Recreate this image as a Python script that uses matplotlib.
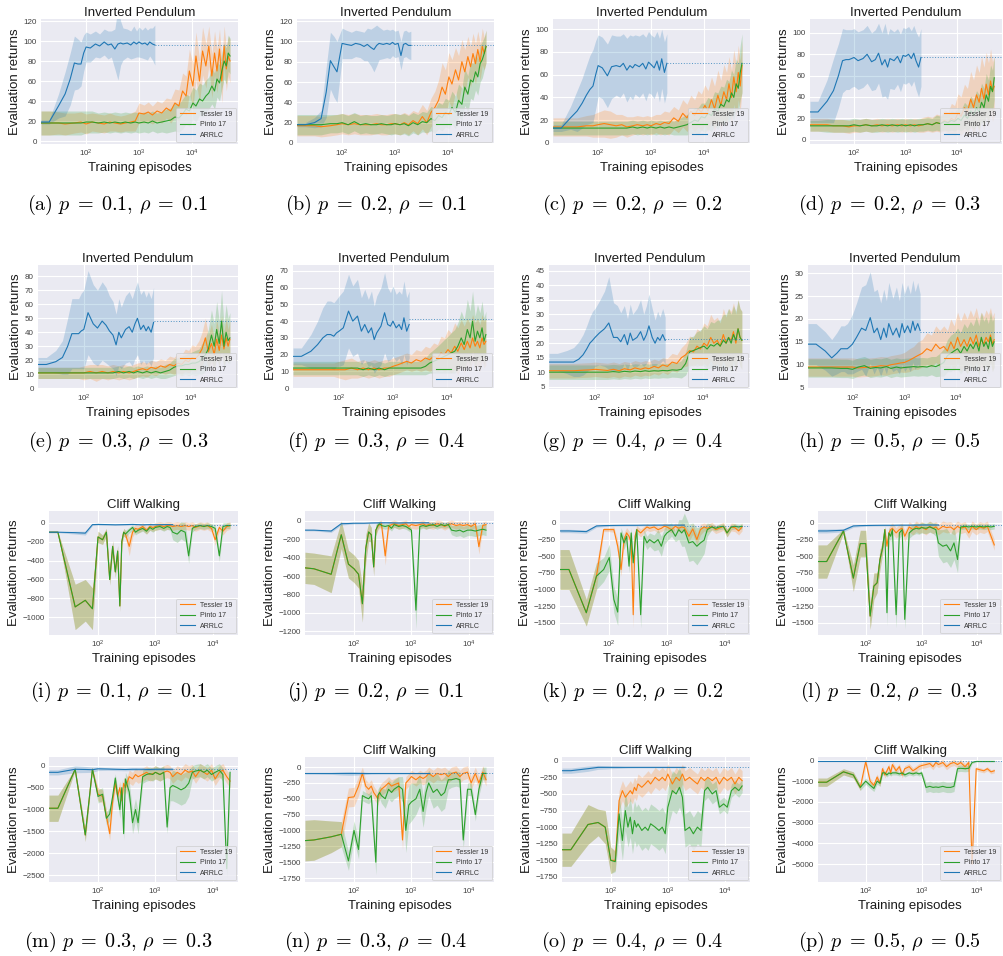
import sys
import numpy as np
import matplotlib
matplotlib.use("Agg")
import matplotlib.pyplot as plt
from matplotlib.ticker import NullLocator, LogLocator

plt.rcParams['font.family'] = ['Liberation Sans', 'DejaVu Sans']

# ---------------- x grids (training episodes) ----------------
PEND_X = [14, 20, 30, 40, 60, 80, 100, 130, 170, 220,
          280, 350, 450, 550, 700, 850, 1000, 1250, 1500, 1800,
          2200, 2700, 3300, 4000, 4800, 5700, 6700, 7800, 9000, 10500,
          12000, 14000, 16000, 18500, 21000, 24000, 27000, 30000, 33500, 37000,
          41000, 45000, 49000, 53000]
PEND_ARR_X = [14, 20, 30, 40, 50, 60, 70, 80, 90, 100,
              120, 150, 180, 220, 260, 300, 350, 400, 450, 500,
              600, 700, 800, 900, 1000, 1150, 1300, 1450, 1600, 1800,
              2000]
CLIFF_X = [14, 20, 40, 60, 80, 100, 120, 140, 160, 180,
           200, 220, 240, 260, 280, 300, 350, 400, 450, 500,
           600, 700, 800, 900, 1000, 1200, 1400, 1600, 1800, 2000,
           2400, 2800, 3300, 3800, 4400, 5000, 6000, 7000, 8000, 9500,
           11000, 13000, 15000, 17500, 20000]
CLIFF_ARR_X = [14, 20, 40, 60, 80, 100, 150, 200, 300, 400, 600, 800, 1000, 1400, 2000]

# ---------------- (a) ----------------
a_tes = [18,18,18,17,18,19,17,19,18,17, 19,18,17,18,19,20,28,27,29,26, 30,28,33,30,38,35,50,45,70,55, 85,60,90,75,95,65,88,70,92,60, 95,72,85,80]
a_tes_sd = [12,12,11,11,10,10,10,9,9,9, 9,8,8,8,9,10,10,9,10,9, 10,10,10,12,14,16,18,20,22,22, 24,22,24,22,20,22,22,22,20,22, 20,22,20,22]
a_pin = [18,18,18,18,18,18,19,19,18,19, 18,19,18,19,18,19,18,19,18,20, 18,19,20,21,24,23,27,32,30,38, 35,42,40,45,48,55,50,62,58,70, 80,75,88,85]
a_pin_sd = [12,12,12,12,12,12,11,11,10,10, 10,10,10,10,10,10,10,10,10,10, 10,10,12,12,14,14,15,15,15,16, 16,16,16,16,16,18,18,18,18,18, 18,18,18,18]
a_arr = [19,19,35,47,62,78,77,77,88,94, 93,97,95,99,96,97,92,97,98,97, 98,96,99,97,99,97,98,96,99,97, 96]
a_arr_sd = [2,2,12,22,26,27,25,22,18,15, 14,13,12,13,14,13,20,36,22,16, 14,14,16,13,15,14,16,15,14,16, 20]
a_final = 96

# ---------------- (b) ----------------
b_tes = [17,17,17,16,17,18,19,18,19,18, 18,18,19,18,18,19,19,18,20,18, 22,19,26,20,30,35,42,55,48,65, 58,72,62,80,70,85,75,88,78,92, 80,95,88,95]
b_tes_sd = [10,10,10,10,10,10,10,10,10,10, 10,10,10,10,10,10,10,10,10,10, 10,11,12,12,14,16,20,24,24,24, 24,22,24,22,22,20,20,20,20,18, 18,18,16,16]
b_pin = [18,18,18,18,19,19,20,18,21,18, 19,18,18,19,18,18,19,18,19,17, 20,18,21,20,24,22,27,25,30,28, 35,30,42,38,55,48,62,60,70,65, 78,82,88,95]
b_pin_sd = [10,10,10,10,9,9,9,9,9,9, 9,9,9,9,9,10,10,10,10,10, 10,10,10,10,12,12,13,13,14,14, 16,16,16,16,18,18,18,18,18,18, 18,18,16,16]
b_arr = [18,18,20,24,50,81,75,70,85,98, 97,96,98,97,95,97,94,92,96,98, 97,98,97,99,97,98,86,97,98,96, 96]
b_arr_sd = [2,2,5,8,25,28,30,30,22,15, 14,13,13,13,14,16,18,22,20,16, 14,14,14,13,13,13,14,13,13,13, 14]
b_final = 96

# ---------------- (c) ----------------
c_tes = [14,14,14,14,15,15,16,17,16,15, 16,14,15,16,15,16,15,17,16,18, 17,22,19,26,22,28,24,30,27,33, 28,38,30,42,33,45,38,52,40,58, 45,62,50,68]
c_tes_sd = [8,8,8,8,9,10,11,12,12,10, 9,9,8,8,8,8,8,8,9,10, 10,10,10,12,12,14,14,16,16,18, 18,20,20,22,22,24,24,24,24,24, 24,24,22,22]
c_pin = [13,13,13,13,13,13,13,13,13,13, 13,13,14,13,14,13,14,13,14,13, 14,13,14,15,16,18,20,19,23,22, 26,24,30,28,34,32,38,36,44,40, 52,48,62,70]
c_pin_sd = [6,6,6,6,6,6,6,6,6,6, 6,6,6,6,6,6,6,6,6,6, 6,6,7,8,9,10,11,12,12,13, 14,14,15,16,16,17,18,18,20,20, 22,22,24,26]
c_arr = [13,13,22,28,35,42,47,50,60,68, 66,59,67,68,67,70,64,68,66,69, 67,70,65,71,69,66,72,64,74,62, 70]
c_arr_sd = [3,3,10,18,22,26,30,32,30,27, 27,28,28,26,27,26,28,27,28,26, 27,26,28,27,26,27,26,28,26,27, 26]
c_final = 70

# ---------------- (d) ----------------
d_tes = [14,14,14,13,13,12,13,13,14,13, 14,13,14,13,14,13,14,13,14,13, 14,15,14,16,15,18,16,20,18,25, 22,30,26,38,30,42,35,48,38,52, 42,55,45,50]
d_tes_sd = [6,6,6,6,6,6,6,6,6,6, 6,6,6,6,6,6,6,6,6,6, 7,7,7,8,8,10,10,14,14,18, 18,22,22,26,26,28,28,30,30,30, 30,30,28,28]
d_pin = [13,13,13,13,13,13,14,13,14,13, 13,14,13,14,13,14,13,14,13,14, 14,15,14,16,15,17,16,18,17,20, 18,23,20,27,23,30,26,35,30,42, 36,50,45,58]
d_pin_sd = [5,5,6,6,6,6,6,6,6,6, 6,6,6,6,6,6,6,6,6,6, 6,6,6,7,7,8,8,9,9,10, 10,12,12,14,14,16,16,18,18,20, 20,20,20,20]
d_arr = [26,26,36,46,60,74,75,75,76,77, 74,76,80,73,75,81,70,75,68,76, 74,78,72,79,78,80,76,81,74,68, 77]
d_arr_sd = [10,10,20,30,30,30,28,28,27,27, 27,27,27,27,28,28,30,34,30,28, 27,26,27,26,26,26,26,26,27,28, 27]
d_final = 77

# ---------------- (e) ----------------
e_tes = [11,11,11,11,11,11,11,12,11,12, 11,12,11,12,11,12,13,14,13,15, 14,16,15,17,16,18,17,20,19,22, 21,24,28,36,26,32,24,35,27,38, 28,36,30,35]
e_tes_sd = [4,4,4,4,4,4,5,5,6,5, 5,5,5,5,5,5,5,5,5,5, 5,5,5,6,6,7,7,8,8,9, 9,10,12,14,12,14,12,14,12,14, 12,14,12,14]
e_pin = [11,11,11,11,11,11,11,11,11,11, 11,11,12,11,12,11,12,11,12,11, 12,11,12,13,15,16,16,17,17,18, 18,19,21,24,28,38,30,42,32,48, 30,40,34,36]
e_pin_sd = [4,4,4,4,4,4,4,4,4,4, 4,4,4,4,4,4,4,4,4,4, 4,4,5,5,6,6,7,7,8,8, 9,9,11,12,14,18,16,20,16,22, 16,20,16,18]
e_arr = [17,17,19,22,30,39,39,39,41,42, 54,46,43,48,45,41,38,31,40,36, 42,44,40,46,50,42,45,41,44,40, 47]
e_arr_sd = [5,5,8,12,20,25,25,25,27,28, 30,28,27,28,27,25,24,22,24,22, 24,25,24,25,26,25,25,24,25,24, 25]
e_final = 48

# ---------------- (f) ----------------
f_tes = [11,11,11,11,11,11,11,11,12,11, 12,11,12,11,12,12,13,14,15,16, 15,17,16,18,17,19,18,21,20,23, 21,25,22,27,23,28,24,30,25,28, 24,30,26,28]
f_tes_sd = [4,4,4,4,4,4,5,6,6,5, 5,5,5,5,5,5,5,5,5,5, 5,6,6,7,7,8,8,10,10,12, 12,14,14,14,14,14,14,14,14,14, 14,14,14,14]
f_pin = [12,12,12,12,12,12,12,12,12,12, 11,12,11,12,11,12,12,12,12,12, 12,12,12,13,15,16,17,18,19,20, 21,22,25,30,26,35,30,40,28,34, 30,36,28,32]
f_pin_sd = [4,4,4,4,4,4,4,4,4,4, 4,4,4,4,4,4,4,4,4,4, 4,4,4,5,6,7,8,9,10,11, 12,13,14,16,15,18,16,18,15,16, 15,16,14,14]
f_arr = [19,19,22,26,30,32,32,31,33,34, 36,46,40,43,34,38,33,36,29,33, 37,45,38,37,40,36,38,35,42,34, 38]
f_arr_sd = [5,5,10,14,18,20,20,20,20,21, 22,22,21,22,20,21,20,22,20,22, 23,24,22,20,21,20,20,21,22,20, 20]
f_final = 41

# ---------------- (g) ----------------
g_tes = [10.5,10.5,10.5,10.5,10.7,10.8,11,10.8,10.6,11, 10.5,11.2,10.8,11.5,11,11.5,11.2,12,11.5,12.5, 12,13.5,13,15,16,17.5,17,19,18,20, 19,22,20,21,19,23,20,22,21,24, 20,25,22,21]
g_tes_sd = [2.5,2.5,2.5,2.5,2.5,2.5,2.5,2.5,2.5,2.5, 2.5,2.5,2.5,2.5,2.5,2.5,2.5,2.5,2.5,2.5, 2.8,3,3,3.5,4,5,5,6,6,7, 7,8,8,8,8,9,9,10,10,10, 10,10,10,10]
g_pin = [10,10,10,10,10,10,10,10,10,10.2, 10,10.3,10.1,10.4,10.2,10.5,10.3,10.5,10.4,10.6, 10.5,10.8,10.7,11,13,17,17.5,18,18.5,19, 18,19.5,19,20,19,21,20,22,20,23, 21,25,22,21]
g_pin_sd = [2.5,2.5,2.5,2.5,2.5,2.5,2.5,2.5,2.5,2.5, 2.5,2.5,2.5,2.5,2.5,2.5,2.5,2.5,2.5,2.5, 2.5,2.5,2.5,3,4,5,5,6,6,7, 7,8,8,8,9,9,10,10,10,10, 10,10,10,10]
g_arr = [13.5,13.5,13.5,13.5,14.5,16,18,20,21,22, 23.5,25,27,22,22,20.5,23,19.5,23.5,21, 22,24,21,23,26,22,20,22,21,23, 21]
g_arr_sd = [3,3,4,5,6,7,8,9,10,10, 11,13,16,12,11,10,10,9,10,9, 10,11,9,10,11,10,8,9,8,9, 8]
g_final = 21.5

# ---------------- (h) ----------------
h_tes = [9.5,9.5,9.5,9.5,9.5,9.5,9.5,9.3,9.4,9.5, 9.6,9.8,9.7,10,10.2,10.4,10.5,11,11.5,12, 12.5,13.5,13,14.5,13.5,14,13,15,13.5,16, 14,15.5,14,16,14.5,16.5,14,15.5,14.5,16, 15,16.5,14.5,15.5]
h_tes_sd = [2,2,2,2,2,2,2,2,2,2, 2,2,2,2,2,2,2.2,2.5,2.5,3, 3,3.5,3.5,4,4,4.5,4.5,5,5,5.5, 5.5,6,6,6,6,6,6,6,6,6, 6,6,6,6]
h_pin = [9.3,9.3,9.3,9.3,9.2,9.2,9.0,9.5,9.8,9.2, 9.4,9.3,9.6,9.2,9.5,9.3,9.4,9.5,9.6,9.5, 9.6,9.5,9.8,9.6,10,10.5,12,12.5,13,13.5, 12.5,14,13,14.5,13.5,15,13,16,14,15, 13.5,16,14,15]
h_pin_sd = [2,2,2,2,2,2,2,2,2,2, 2,2,2,2,2,2,2,2,2,2, 2,2,2,2.2,2.5,3,3.5,4,4,4.5, 4.5,5,5,5,5,5.5,5.5,5.5,5.5,5.5, 5.5,5.5,5.5,5.5]
h_arr = [14.5,14.5,13,11.5,12.5,13.5,13.5,13.5,14,14.5, 16,18,17.5,20.3,17,18,15.5,18,16,19, 16.5,18,16,19,17,18.5,17,19.5,17.5,19, 17.5]
h_arr_sd = [4.5,4.5,4.2,4,4.5,5,5,5.5,6,6.5, 7.5,9,10,10,9,8.5,8,8.5,8,9, 8,9,8,9,8.5,9,8.5,9,8.5,9, 8]
h_final = 17.2

# ---------------- (i) ----------------
i_tes = [-100,-100,-890,-820,-910,-150,-180,-100,-600,-250, -520,-300,-880,-200,-100,-120,-250,-100,-60,-70, -40,-80,-40,-50,-40,-30,-40,-30,-30,-40, -30,-40,-30,-40,-30,-50,-30,-40,-30,-60, -180,-50,-90,-40,-30]
i_tes_sd = [5,5,240,220,220,60,50,40,60,60, 60,60,60,40,40,40,100,50,40,40, 40,40,40,40,40,40,40,40,40,40, 40,40,40,40,40,40,40,40,40,40, 60,40,40,40,40]
i_pin = [-100,-100,-890,-820,-910,-150,-180,-100,-600,-250, -520,-300,-880,-200,-100,-120,-80,-50,-100,-80, -60,-90,-50,-70,-50,-40,-60,-40,-50,-100, -120,-80,-100,-350,-60,-40,-30,-40,-30,-40, -60,-350,-40,-30,-30]
i_pin_sd = [5,5,240,220,220,60,50,40,60,60, 60,60,60,40,40,40,30,30,30,30, 30,30,30,30,30,30,30,30,30,80, 90,90,100,80,40,30,30,30,30,30, 40,60,40,30,30]
i_arr = [-100,-100,-105,-110,-20,-18,-20,-22,-20,-18,-22,-20,-21,-20,-20]
i_arr_sd = [5,5,15,20,10,8,6,6,5,5,5,5,5,5,5]
i_final = -25

# ---------------- (j) ----------------
j_tes = [-510,-520,-580,-150,-470,-520,-580,-900,-300,-120, -150,-500,-100,-60,-40,-30,-380,-60,-40,-30, -50,-40,-30,-60,-40,-50,-40,-30,-50,-40, -50,-30,-40,-60,-40,-30,-50,-40,-50,-40, -60,-30,-280,-50,-40]
j_tes_sd = [170,170,200,150,150,150,150,200,150,100, 80,100,60,40,40,40,100,40,40,40, 40,40,40,40,40,40,40,40,40,40, 40,40,40,40,40,40,40,40,40,40, 40,40,80,40,40]
j_pin = [-510,-520,-580,-150,-470,-520,-580,-900,-300,-120, -150,-500,-100,-50,-30,-50,-60,-50,-80,-40, -60,-50,-60,-80,-100,-970,-60,-50,-60,-50, -40,-60,-40,-50,-40,-100,-110,-100,-120,-100, -100,-110,-100,-90,-100]
j_pin_sd = [170,170,200,150,150,150,150,200,150,100, 80,100,60,40,30,30,30,30,30,30, 30,30,30,30,30,200,30,30,30,30, 30,30,30,30,30,50,60,60,60,60, 60,60,60,60,60]
j_arr = [-100,-100,-110,-30,-28,-25,-25,-22,-20,-20,-22,-20,-20,-20,-20]
j_arr_sd = [8,8,15,15,10,8,6,6,5,5,5,5,5,5,5]
j_final = -20

# ---------------- (k) ----------------
k_tes = [-700,-700,-1350,-800,-100,-100,-100,-350,-700,-250, -150,-200,-300,-1380,-200,-100,-150,-100,-60,-80, -60,-100,-80,-50,-60,-100,-50,-80,-60,-70, -200,-90,-250,-100,-60,-80,-50,-100,-80,-50, -150,-60,-70,-120,-60]
k_tes_sd = [300,300,200,200,30,30,40,100,100,100, 80,80,100,200,100,60,60,50,50,50, 50,50,50,50,50,50,50,50,60,60, 80,80,80,80,60,60,60,60,60,60, 60,60,60,60,60]
k_pin = [-700,-700,-1350,-800,-700,-520,-1150,-1340,-150,-300, -200,-650,-150,-600,-300,-100,-1380,-200,-300,-250, -300,-250,-350,-200,-150,-100,-200,-100,-150,-100, -300,-280,-350,-300,-260,-100,-60,-80,-60,-50, -150,-60,-50,-60,-50]
k_pin_sd = [300,300,200,200,180,200,200,200,80,100, 80,100,80,100,80,50,200,100,100,100, 120,150,150,120,120,100,80,150,200,250, 280,280,280,250,200,100,40,40,40,40, 60,40,40,40,40]
k_arr = [-120,-120,-130,-45,-40,-38,-36,-35,-35,-33,-33,-32,-32,-32,-32]
k_arr_sd = [25,25,25,20,15,12,10,10,10,10,8,8,8,8,8]
k_final = -40

# ---------------- (l) ----------------
l_tes = [-580,-580,-120,-830,-310,-310,-1400,-950,-900,-550, -380,-100,-350,-150,-100,-80,-150,-100,-80,-200, -60,-100,-50,-80,-60,-100,-50,-80,-60,-100, -50,-70,-60,-100,-50,-80,-60,-150,-50,-100, -60,-80,-50,-200,-330]
l_tes_sd = [250,250,30,200,200,200,200,200,150,150, 100,50,80,80,80,80,80,80,80,80, 80,80,80,80,80,80,80,80,80,80, 80,80,80,80,80,80,80,80,80,80, 80,80,80,80,80]
l_pin = [-580,-580,-120,-830,-310,-310,-1400,-950,-900,-550, -380,-100,-1350,-150,-200,-100,-1380,-150,-100,-1450, -150,-100,-80,-90,-70,-80,-60,-80,-100,-300, -350,-330,-420,-300,-550,-60,-50,-60,-50,-60, -50,-60,-50,-60,-50]
l_pin_sd = [250,250,30,200,200,200,200,200,150,150, 100,50,200,80,80,50,200,80,80,150, 80,80,80,80,80,80,80,80,100,200, 250,250,250,250,200,40,40,40,40,40, 40,40,40,40,40]
l_arr = [-120,-120,-110,-45,-40,-38,-36,-35,-35,-33,-33,-32,-30,-30,-30]
l_arr_sd = [30,30,25,20,15,12,10,10,10,10,8,8,8,8,8]
l_final = -30

# ---------------- (m) ----------------
m_tes = [-970,-970,-80,-1580,-80,-650,-700,-1150,-1550,-800, -400,-700,-500,-800,-400,-500,-250,-300,-200,-250, -200,-150,-200,-180,-150,-200,-150,-120,-150,-250, -150,-200,-100,-150,-120,-250,-100,-150,-200,-100, -300,-150,-100,-250,-350]
m_tes_sd = [300,300,20,150,20,150,150,150,150,150, 150,150,150,150,150,150,150,150,150,150, 150,150,150,150,150,150,150,150,150,150, 150,150,150,150,150,150,150,150,150,150, 150,150,150,150,150]
m_pin = [-970,-970,-80,-1580,-80,-700,-650,-1200,-1100,-700, -280,-700,-1000,-500,-1550,-300,-600,-1300,-1000,-1300, -250,-200,-180,-200,-150,-200,-150,-1400,-500,-450, -500,-550,-500,-400,-150,-120,-100,-150,-100,-200, -150,-100,-200,-2350,-150]
m_pin_sd = [300,300,20,150,20,150,150,150,150,150, 100,150,200,200,150,150,250,250,250,250, 150,150,150,150,150,150,150,150,300,350, 350,350,350,300,150,150,150,150,150,150, 150,150,150,200,150]
m_arr = [-150,-150,-80,-85,-90,-70,-75,-80,-85,-80,-80,-85,-80,-80,-80]
m_arr_sd = [60,60,80,70,60,40,30,30,30,30,25,25,25,25,25]
m_final = -80

# ---------------- (n) ----------------
n_tes = [-1160,-1150,-1100,-1060,-480,-470,-300,-100,-300,-350, -300,-400,-450,-500,-400,-350,-300,-250,-300,-280, -250,-1150,-250,-200,-150,-200,-150,-180,-150,-100, -150,-100,-120,-100,-150,-100,-80,-150,-100,-80, -250,-100,-250,-80,-200]
n_tes_sd = [320,320,250,200,150,150,150,100,100,100, 100,100,100,100,100,100,100,100,100,100, 100,150,100,100,100,100,100,100,100,100, 100,100,100,100,100,100,100,100,100,100, 100,100,100,100,100]
n_pin = [-1160,-1150,-1100,-1060,-1480,-1000,-1300,-450,-480,-500, -450,-1000,-1500,-450,-400,-450,-500,-350,-400,-350, -300,-350,-1000,-600,-550,-500,-350,-700,-400,-250, -400,-350,-450,-400,-200,-200,-180,-200,-1150,-350, -350,-750,-350,-100,-100]
n_pin_sd = [320,320,250,200,150,150,150,80,80,80, 80,150,200,100,100,120,150,150,150,150, 150,200,350,300,300,250,250,250,250,200, 250,250,250,250,150,120,120,120,150,100, 100,100,100,100,100]
n_arr = [-100,-100,-100,-100,-100,-100,-100,-100,-100,-100,-100,-100,-100,-100,-100]
n_arr_sd = [10,10,15,25,30,30,20,10,8,8,8,8,8,8,8]
n_final = -100

# ---------------- (o) ----------------
o_tes = [-1340,-1340,-960,-930,-1000,-1500,-1500,-600,-450,-550, -500,-450,-500,-400,-450,-350,-400,-350,-300,-350, -250,-300,-250,-300,-200,-350,-250,-300,-200,-300, -250,-300,-350,-250,-300,-250,-300,-250,-350,-250, -300,-250,-350,-250,-300]
o_tes_sd = [250,250,300,200,250,200,150,150,150,150, 150,150,150,150,150,150,150,150,150,150, 150,150,150,150,150,150,150,150,150,150, 150,150,150,150,150,150,150,150,150,150, 150,150,150,150,150]
o_pin = [-1340,-1340,-960,-930,-1000,-1500,-1520,-800,-1200,-750, -1000,-850,-1100,-900,-1000,-950,-1050,-1000,-1050,-950, -1000,-1050,-1000,-1100,-700,-450,-500,-400,-550,-1050, -1000,-1100,-1000,-1050,-450,-400,-500,-450,-700,-650, -700,-450,-400,-450,-380]
o_pin_sd = [250,250,300,200,250,200,150,300,300,300, 300,300,300,300,300,300,300,300,300,300, 300,300,300,300,300,300,300,300,300,250, 250,250,250,250,150,150,150,150,100,100, 100,100,100,100,100]
o_arr = [-150,-150,-120,-100,-100,-100,-100,-100,-100,-100,-100,-100,-100,-100,-100]
o_arr_sd = [40,40,40,30,25,20,15,10,8,8,8,8,8,8,8]
o_final = -100

# ---------------- (p) ----------------
p_tes = [-1050,-1050,-550,-700,-1300,-50,-1000,-1200,-800,-1100, -400,-700,-500,-300,-600,-200,-500,-300,-700,-400, -300,-500,-400,-300,-250,-200,-150,-300,-100,-200, -100,-300,-150,-100,-200,-100,-300,-100,-5000,-400, -450,-500,-400,-550,-500]
p_tes_sd = [200,200,150,150,150,150,150,150,150,150, 150,150,150,150,150,150,150,150,150,150, 150,150,150,150,150,150,150,150,150,150, 150,150,150,150,150,150,150,150,100,100, 100,100,100,100,100]
p_pin = [-1050,-1050,-550,-700,-1300,-1000,-1200,-1350,-1000,-1100, -600,-600,-700,-600,-650,-600,-600,-650,-600,-700, -600,-650,-600,-650,-600,-1300,-1250,-1300,-1280,-1300, -1250,-1300,-1300,-1250,-400,-380,-400,-380,-100,-50, -50,-50,-50,-50,-50]
p_pin_sd = [200,200,150,150,150,150,150,150,150,150, 100,100,100,100,100,100,100,100,100,100, 100,100,100,100,100,250,250,250,250,250, 250,250,250,250,150,150,150,150,50,30, 30,30,30,30,30]
p_arr = [-50,-50,-50,-50,-50,-50,-50,-50,-50,-50,-50,-50,-50,-50,-50]
p_arr_sd = [10,10,10,10,10,10,10,10,10,10,10,10,10,10,10]
p_final = -50

# ---------------- ticks / limits ----------------
YTICKS = {
    'a': [0, 20, 40, 60, 80, 100, 120], 'b': [0, 20, 40, 60, 80, 100, 120],
    'c': [0, 20, 40, 60, 80, 100], 'd': [0, 20, 40, 60, 80, 100],
    'e': [0, 10, 20, 30, 40, 50, 60, 70, 80], 'f': [0, 10, 20, 30, 40, 50, 60, 70],
    'g': [5, 10, 15, 20, 25, 30, 35, 40, 45], 'h': [5, 10, 15, 20, 25, 30],
    'i': [0, -200, -400, -600, -800, -1000], 'j': [0, -200, -400, -600, -800, -1000, -1200],
    'k': [0, -250, -500, -750, -1000, -1250, -1500], 'l': [0, -250, -500, -750, -1000, -1250, -1500],
    'm': [0, -500, -1000, -1500, -2000, -2500], 'n': [0, -250, -500, -750, -1000, -1250, -1500, -1750],
    'o': [0, -250, -500, -750, -1000, -1250, -1500, -1750], 'p': [0, -1000, -2000, -3000, -4000, -5000],
}
YLIM = {
    'a': (-3, 122), 'b': (-1, 122), 'c': (-1, 109), 'd': (-4, 113),
    'e': (-0.5, 88), 'f': (-0.5, 73.5), 'g': (4.2, 47), 'h': (4.7, 31.8),
    'i': (-1187, 124), 'j': (-1240, 108), 'k': (-1685, 180), 'l': (-1685, 180),
    'm': (-2654, 200), 'n': (-1813, 159), 'o': (-1826, 56), 'p': (-5857, 164),
}
PARAMS = {
    'a': ('0.1', '0.1'), 'b': ('0.2', '0.1'), 'c': ('0.2', '0.2'), 'd': ('0.2', '0.3'),
    'e': ('0.3', '0.3'), 'f': ('0.3', '0.4'), 'g': ('0.4', '0.4'), 'h': ('0.5', '0.5'),
    'i': ('0.1', '0.1'), 'j': ('0.2', '0.1'), 'k': ('0.2', '0.2'), 'l': ('0.2', '0.3'),
    'm': ('0.3', '0.3'), 'n': ('0.3', '0.4'), 'o': ('0.4', '0.4'), 'p': ('0.5', '0.5'),
}
SERIES = {k: (globals()[k + '_tes'], globals()[k + '_tes_sd'],
              globals()[k + '_pin'], globals()[k + '_pin_sd'],
              globals()[k + '_arr'], globals()[k + '_arr_sd'],
              globals()[k + '_final']) for k in 'abcdefghijklmnop'}

# ---------------- layout (pixels) ----------------
W, H = 1004, 956
LEFTS = {'a': 41, 'b': 297, 'c': 553, 'd': 810, 'e': 38, 'f': 293, 'g': 549, 'h': 808,
         'i': 49, 'j': 305, 'k': 560, 'l': 818, 'm': 49, 'n': 305, 'o': 562, 'p': 818}
RIGHTS = [238, 494, 750, 1002]
ROWS = [(19, 144), (265, 389), (511, 635), (757, 882)]
CAP_X = [118, 376, 632, 889]
CAP_Y = [205, 442, 692, 942]

C_TES, C_PIN, C_ARR = '#ff7f0e', '#2ca02c', '#1f77b4'
BG = '#EAEAF2'
PEND_XLIM = (14, 75000)
CLIFF_XLIM = (14, 27500)

fig = plt.figure(figsize=(W / 100, H / 100), dpi=100)


def draw(ax, xs, y, sd, color, label, name):
    if not (len(xs) == len(y) == len(sd)):
        print('length mismatch', name, label, len(xs), len(y), len(sd), file=sys.stderr)
    n = min(len(xs), len(y), len(sd))
    x = np.asarray(xs[:n], float)
    yy = np.asarray(y[:n], float)
    s = np.asarray(sd[:n], float)
    ax.fill_between(x, yy - s, yy + s, color=color, alpha=0.22, lw=0)
    line, = ax.plot(x, yy, color=color, lw=0.8, label=label)
    return line


for idx, key in enumerate('abcdefghijklmnop'):
    row, col = divmod(idx, 4)
    top, bot = ROWS[row]
    l, r = LEFTS[key], RIGHTS[col]
    ax = fig.add_axes([l / W, 1 - bot / H, (r - l) / W, (bot - top) / H])
    ax.set_facecolor(BG)
    for s in ax.spines.values():
        s.set_visible(False)
    pend = row < 2
    X = PEND_X if pend else CLIFF_X
    AX_ = PEND_ARR_X if pend else CLIFF_ARR_X
    xlim = PEND_XLIM if pend else CLIFF_XLIM
    tes, tes_sd, pin, pin_sd, arr, arr_sd, final = SERIES[key]
    lt = draw(ax, X, tes, tes_sd, C_TES, 'Tessler 19', key)
    lp = draw(ax, X, pin, pin_sd, C_PIN, 'Pinto 17', key)
    la = draw(ax, AX_, arr, arr_sd, C_ARR, 'ARRLC', key)
    ax.plot([AX_[-1], xlim[1]], [final, final], color=C_ARR, lw=0.7, alpha=0.75,
            ls=(0, (1, 1.8)))
    ax.set_xscale('log')
    ax.set_xlim(*xlim)
    ax.xaxis.set_major_locator(LogLocator(base=10, numticks=10))
    ax.xaxis.set_minor_locator(NullLocator())
    ax.set_yticks(YTICKS[key])
    ax.set_ylim(*YLIM[key])
    ax.grid(True, color='white', lw=0.8)
    ax.set_axisbelow(True)
    ax.tick_params(axis='both', which='both', length=0, pad=3, labelsize=5.8, labelcolor='0.25')
    ax.set_title('Inverted Pendulum' if pend else 'Cliff Walking', fontsize=9.5, pad=1.5, color='0.1')
    ax.set_xlabel('Training episodes', fontsize=9.5, labelpad=2, color='0.1')
    ax.set_ylabel('Evaluation returns', fontsize=9.5, labelpad=2, color='0.1')
    leg = ax.legend(handles=[lt, lp, la], loc='lower right', fontsize=5, frameon=True,
                    facecolor=BG, edgecolor='0.8', framealpha=0.8, handlelength=2.2,
                    borderaxespad=0.3, borderpad=0.45, labelspacing=0.5, handletextpad=0.8)
    leg.get_frame().set_linewidth(0.6)
    for t in leg.get_texts():
        t.set_color('0.2')
    p, rho = PARAMS[key]
    fig.text(CAP_X[col] / W, 1 - CAP_Y[row] / H,
             r'$\mathrm{(%s)}\ p\;=\;%s,\,\rho\;=\;%s$' % (key, p, rho),
             ha='center', va='center', fontsize=14.5, math_fontfamily='cm')

fig.savefig('out.png', dpi=100)
